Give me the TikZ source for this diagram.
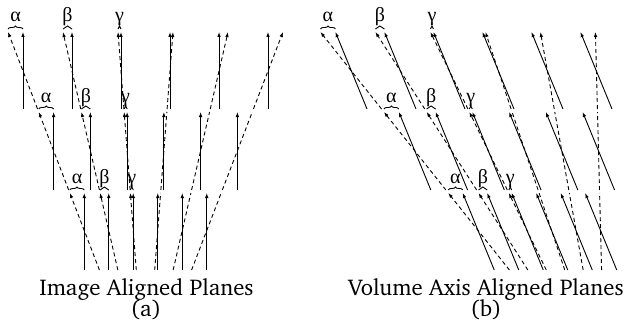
\documentclass[tikz,border=0pt]{standalone}
\usepackage{fontspec}
\newfontfamily\grk{Liberation Serif}
\usepackage[T1]{fontenc}
\usepackage{charter}
\usetikzlibrary{arrows.meta,decorations.pathreplacing}
\begin{document}
\begin{tikzpicture}[x=1pt,y=-1pt,
  solidarrow/.style={line width=0.9pt,-{Latex[length=5pt,width=3.6pt]}},
  dasharrow/.style={line width=0.9pt,dash pattern=on 4pt off 3pt,-{Latex[length=5pt,width=3.6pt]}},
  dashline/.style={line width=0.9pt,dash pattern=on 4pt off 3pt},
  bracestyle/.style={decorate,decoration={brace,amplitude=3pt},line width=0.9pt},
  greek/.style={font=\grk\fontsize{20}{20}\selectfont,anchor=base,inner sep=0pt},
  caption/.style={font=\fontsize{22.8}{26}\selectfont,anchor=base,inner sep=0pt}]
\useasboundingbox (0,0) rectangle (626,329);
% panel offsets: a = unsheared, b = sheared
\foreach \p/\sh/\off in {a/0/0, b/0.41/410} {
  \foreach \r/\top/\bot/\sp in {1/32/109/49, 2/112/190/36.75, 3/193/270/24.5} {
    \foreach \k [count=\i] in {-2.5,-1.5,-0.5,0.5,1.5,2.5} {
      \pgfmathsetmacro\ft{(390-\top)/358}
      \pgfmathsetmacro\fb{(390-\bot)/358}
      \pgfmathsetmacro\xs{145.5+\sp*\k}
      \pgfmathsetmacro\xdt{145.5+55*\k*\ft}
      \pgfmathsetmacro\xdb{145.5+55*\k*\fb}
      \pgfmathsetmacro\st{\off+\xs-\sh*(270-\top)}
      \pgfmathsetmacro\sb{\off+\xs-\sh*(270-\bot)}
      \pgfmathsetmacro\dt{\off+\xdt-\sh*(270-\top)}
      \pgfmathsetmacro\db{\off+\xdb-\sh*(270-\bot)}
      \coordinate (\p-s\r\i-b) at (\sb,\bot);
      \coordinate (\p-s\r\i-t) at (\st,\top);
      \coordinate (\p-d\r\i-b) at (\db,\bot);
      \coordinate (\p-d\r\i-t) at (\dt,\top);
      \pgfmathtruncatemacro\hasarrow{(\r==1)||(\i<4)}
      \ifnum\hasarrow=1
        \draw[dasharrow] (\p-d\r\i-b) -- (\p-d\r\i-t);
      \else
        \draw[dashline] (\p-d\r\i-b) -- (\p-d\r\i-t);
      \fi
      \draw[solidarrow] (\p-s\r\i-b) -- (\p-s\r\i-t);
    }
    \foreach \k/\g [count=\i] in {-2.5/α,-1.5/β,-0.5/γ} {
      \pgfmathsetmacro\ft{(390-\top)/358}
      \pgfmathsetmacro\xs{\off+145.5+\sp*\k-\sh*(270-\top)}
      \pgfmathsetmacro\xd{\off+145.5+55*\k*\ft-\sh*(270-\top)}
      \pgfmathsetmacro\yb{\top-3}
      \pgfmathsetmacro\yl{\top-10}
      \pgfmathsetmacro\xm{(\xs+\xd)/2}
      \coordinate (\p-bl\r\i) at (\xd,\yb);
      \coordinate (\p-br\r\i) at (\xs,\yb);
      \draw[bracestyle] (\p-bl\r\i) -- (\p-br\r\i);
      \node[greek] (\p-lab\r\i) at (\xm,\yl) {\g};
    }
  }
}
\node[caption] (capa) at (146.5,295) {Image Aligned Planes};
\node[caption] (capa2) at (146,316) {(a)};
\node[caption] (capb) at (486,295) {Volume Axis Aligned Planes};
\node[caption] (capb2) at (486,316) {(b)};
\end{tikzpicture}
\end{document}
